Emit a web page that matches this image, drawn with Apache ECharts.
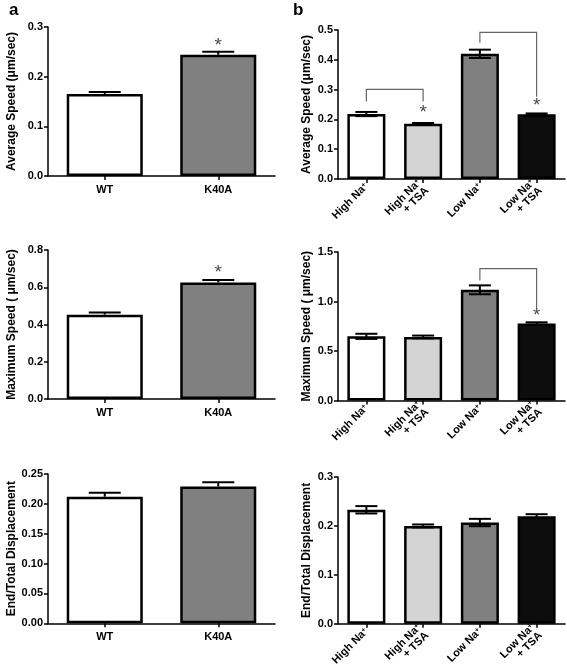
<!DOCTYPE html>
<html><head><meta charset="utf-8">
<script src="https://cdn.jsdelivr.net/npm/echarts@6/dist/echarts.min.js"></script>
<style>html,body{margin:0;padding:0;background:#fff}#c{width:567px;height:672px}</style>
</head><body><div id="c"></div>
<script>
// ---- data ----
const aCats = ['WT', 'K40A'];
const aAvg = [0.165, 0.244];
const aAvgErr = [0.004, 0.006];
const aMax = [0.453, 0.626];
const aMaxErr = [0.012, 0.013];
const aDisp = [0.212, 0.229];
const aDispErr = [0.0065, 0.0073];

const bCats = ['High Na+', 'High Na+\n+ TSA', 'Low Na+', 'Low Na+\n+ TSA'];
const bAvg = [0.218, 0.185, 0.420, 0.217];
const bAvgErr = [0.007, 0.003, 0.014, 0.003];
const bMax = [0.648, 0.642, 1.118, 0.778];
const bMaxErr = [0.026, 0.014, 0.045, 0.012];
const bDisp = [0.233, 0.200, 0.207, 0.220];
const bDispErr = [0.0075, 0.003, 0.0075, 0.004];

// significance brackets: [fromIdx, toIdx, topY, leftLegY, rightLegY]
const bAvgBrackets = [[0, 1, 0.301, 0.260, 0.260], [2, 3, 0.492, 0.457, 0.276]];
const bMaxBrackets = [[2, 3, 1.332, 1.213, 0.928]];
// asterisks: [idx, y]
const aAvgStars = [[1, 0.262]];
const aMaxStars = [[1, 0.680]];
const bAvgStars = [[1, 0.222], [3, 0.247]];
const bMaxStars = [[3, 0.855]];

// y axes: [max, interval, decimals]
const yAxesSpec = [[0.3, 0.1, 1], [0.5, 0.1, 1], [0.8, 0.2, 1], [1.5, 0.5, 1], [0.25, 0.05, 2], [0.3, 0.1, 1]];
const yNames = ['Average Speed (\u03bcm/sec)', 'Average Speed (\u03bcm/sec)', 'Maximum Speed ( \u03bcm/sec)', 'Maximum Speed ( \u03bcm/sec)', 'End/Total Displacement', 'End/Total Displacement'];

// ---- styles ----
const aColors = ['#ffffff', '#808080'];
const bColors = ['#ffffff', '#d4d4d4', '#808080', '#0d0d0d'];
const FONT = 'Liberation Sans, Arial, sans-serif';

const grids = [
  {left: 48, width: 227, top: 27, height: 149},
  {left: 338, width: 227, top: 30, height: 149},
  {left: 48, width: 227, top: 250, height: 149},
  {left: 338, width: 227, top: 252, height: 148.5},
  {left: 48, width: 227, top: 474, height: 149.3},
  {left: 338, width: 227, top: 477, height: 148.3}
];

const axisLine = {show: true, lineStyle: {color: '#000', width: 1.5}};
const axisTick = {show: true, length: 4, lineStyle: {color: '#000', width: 1.5}};

const xAxes = grids.map((g, i) => {
  const isB = i % 2 === 1;
  return {
    type: 'category', gridIndex: i, data: isB ? bCats : aCats,
    axisLine, axisTick: Object.assign({alignWithLabel: true}, axisTick),
    axisLabel: isB ? {
      rotate: 45, margin: 6, fontFamily: FONT, fontWeight: 'bold', fontSize: 11, color: '#000',
      lineHeight: 11, interval: 0,
      formatter: v => v.replace(/Na\+/g, 'Na{sup|+}'),
      rich: {sup: {fontSize: 7, fontWeight: 'bold', verticalAlign: 'top', color: '#000', padding: [0, 0, 6, 0]}}
    } : {fontFamily: FONT, fontWeight: 'bold', fontSize: 11, color: '#000', margin: 8}
  };
});

const yAxes = grids.map((g, i) => {
  const [max, interval, dec] = yAxesSpec[i];
  return {
    type: 'value', gridIndex: i, min: 0, max, interval,
    axisLine, axisTick, splitLine: {show: false},
    axisLabel: {fontFamily: FONT, fontWeight: 'bold', fontSize: 11, color: '#000', margin: 5,
      formatter: v => v.toFixed(dec)},
    name: yNames[i], nameLocation: 'middle', nameRotate: 90,
    nameGap: i % 2 === 0 ? 30 : 25,
    nameTextStyle: {fontFamily: FONT, fontWeight: 'bold', fontSize: 12, color: '#000'}
  };
});

function barSeries(gi, vals, colors) {
  return {
    type: 'bar', xAxisIndex: gi, yAxisIndex: gi, barWidth: '67%',
    data: vals.map((v, i) => ({value: v, itemStyle: {color: colors[i], borderColor: '#000', borderWidth: 2.5}})),
    silent: true, animation: false
  };
}
function errSeries(gi, vals, errs, capHalf, upperOnly) {
  return {
    type: 'custom', xAxisIndex: gi, yAxisIndex: gi, z: 10, animation: false, silent: true,
    encode: {x: 0, y: 1},
    data: vals.map((v, i) => [i, v, errs[i]]),
    renderItem: (params, api) => {
      const i = api.value(0), v = api.value(1), e = api.value(2);
      const t = api.coord([i, v + e]);
      const b = api.coord([i, upperOnly ? v : v - e]);
      const st = {stroke: '#000', lineWidth: 2};
      const ch = [
        {type: 'line', shape: {x1: t[0], y1: t[1], x2: b[0], y2: b[1]}, style: st},
        {type: 'line', shape: {x1: t[0] - capHalf, y1: t[1], x2: t[0] + capHalf, y2: t[1]}, style: st}
      ];
      if (!upperOnly) ch.push({type: 'line', shape: {x1: b[0] - capHalf, y1: b[1], x2: b[0] + capHalf, y2: b[1]}, style: st});
      return {type: 'group', children: ch};
    }
  };
}
function bracketSeries(gi, brs) {
  return {
    type: 'custom', xAxisIndex: gi, yAxisIndex: gi, z: 5, animation: false, silent: true,
    encode: {x: 0, y: 2},
    data: brs,
    renderItem: (params, api) => {
      const x1 = api.value(0), x2 = api.value(1), yt = api.value(2), yl = api.value(3), yr = api.value(4);
      const p = [api.coord([x1, yl]), api.coord([x1, yt]), api.coord([x2, yt]), api.coord([x2, yr])];
      return {type: 'polyline', shape: {points: p}, style: {stroke: '#666', lineWidth: 1.2, fill: null}};
    }
  };
}
function starSeries(gi, stars) {
  return {
    type: 'custom', xAxisIndex: gi, yAxisIndex: gi, z: 12, animation: false, silent: true,
    encode: {x: 0, y: 1},
    data: stars,
    renderItem: (params, api) => {
      const c = api.coord([api.value(0), api.value(1)]);
      return {type: 'text', x: c[0], y: c[1], style: {text: '*', fontSize: 19, fontFamily: FONT, fill: '#4a4a4a', align: 'center', verticalAlign: 'middle'}};
    }
  };
}

const series = [
  barSeries(0, aAvg, aColors), errSeries(0, aAvg, aAvgErr, 16, true), starSeries(0, aAvgStars),
  barSeries(1, bAvg, bColors), errSeries(1, bAvg, bAvgErr, 11, false), bracketSeries(1, bAvgBrackets), starSeries(1, bAvgStars),
  barSeries(2, aMax, aColors), errSeries(2, aMax, aMaxErr, 16, true), starSeries(2, aMaxStars),
  barSeries(3, bMax, bColors), errSeries(3, bMax, bMaxErr, 11, false), bracketSeries(3, bMaxBrackets), starSeries(3, bMaxStars),
  barSeries(4, aDisp, aColors), errSeries(4, aDisp, aDispErr, 16, true),
  barSeries(5, bDisp, bColors), errSeries(5, bDisp, bDispErr, 11, false)
];

const chart = echarts.init(document.getElementById('c'), null, {renderer: 'canvas'});
chart.setOption({
  animation: false,
  backgroundColor: '#fff',
  grid: grids,
  xAxis: xAxes,
  yAxis: yAxes,
  series,
  graphic: [
    {type: 'text', left: 9, top: 2, style: {text: 'a', fontSize: 17, fontWeight: 'bold', fontFamily: FONT, fill: '#000'}},
    {type: 'text', left: 293, top: 2, style: {text: 'b', fontSize: 17, fontWeight: 'bold', fontFamily: FONT, fill: '#000'}}
  ]
});
</script></body></html>
